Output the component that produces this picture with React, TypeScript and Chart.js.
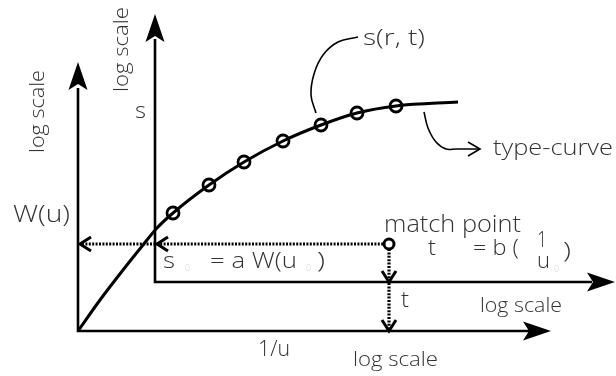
import { useEffect, useRef } from "react";
import { Chart, registerables } from "chart.js";
Chart.register(...registerables);

// Type-curve (diagram units)
const CURVE_X = [78, 100, 123, 143, 157, 173, 209, 244, 283, 321, 357, 396, 458];
const CURVE_Y = [331, 300, 270, 245, 228, 213, 185, 162, 141, 125, 113, 106, 102];
// Observed drawdown points s(r, t)
const OBS_X = [173, 209, 244, 283, 321, 357, 396];
const OBS_Y = [213, 185, 162, 141, 125, 113, 106];
// Match point
const MATCH_X = [389];
const MATCH_Y = [244];
// Axes (outer: W(u) vs 1/u ; inner: s vs t)
const OUTER_AXIS_X = [78, 78, 530];
const OUTER_AXIS_Y = [88, 331, 331];
const INNER_AXIS_X = [155, 155, 592];
const INNER_AXIS_Y = [39, 282, 282];
// Arrow tips [x, y, direction]
const ARROW_TIPS: [number, number, string][] = [
  [78, 62, "up"],
  [155, 14, "up"],
  [551, 331, "right"],
  [615, 282, "right"],
];
// Projection lines from the match point
const H_PROJ_X = [82, 384];
const H_PROJ_Y = [244, 244];
const V_PROJ_X = [389, 389];
const V_PROJ_Y = [249, 329];
// Chevrons (open arrows), each [tipX, tipY, direction]
const CHEVRONS: [number, number, string][] = [
  [80, 244, "left"],
  [157, 244, "left"],
  [389, 282, "down"],
  [389, 331, "down"],
];
// Leader lines
const LEADER1_X = [358, 338, 323, 314, 311, 316];
const LEADER1_Y = [37, 42, 55, 74, 95, 113];
const LEADER2_X = [424, 428, 436, 446, 456, 480];
const LEADER2_Y = [112, 128, 142, 149, 149, 149];

// Text labels: [text, x, baselineY, size, width, rotated, light]
const LABELS: [string, number, number, number, number, boolean, boolean][] = [
  ["log scale", 44, 153, 20, 83, true, false],
  ["log scale", 128, 92, 20, 85, true, false],
  ["s", 135, 118, 22, 11, false, false],
  ["s(r, t)", 363, 45, 22, 62, false, false],
  ["type-curve", 493, 155, 22, 120, false, false],
  ["W(u)", 13, 222, 23, 57, false, false],
  ["match point", 384, 232, 23, 137, false, false],
  ["s", 163, 268, 22, 12, false, false],
  ["0", 185, 271, 9, 5, false, true],
  ["= a W(u", 210, 268, 22, 87, false, false],
  ["0", 306, 271, 9, 5, false, true],
  [")", 317, 268, 22, 8, false, false],
  ["t", 428, 255, 22, 8, false, false],
  ["= b (", 473, 255, 22, 46, false, false],
  ["1", 537, 247, 22, 10, false, false],
  ["u", 537, 268, 22, 13, false, false],
  ["0", 554, 272, 9, 5, false, true],
  [")", 563, 258, 22, 8, false, false],
  ["t", 401, 307, 22, 8, false, false],
  ["log scale", 480, 312, 20, 82, false, false],
  ["1/u", 258, 356, 22, 32, false, false],
  ["log scale", 353, 366, 20, 85, false, false],
];

const pts = (xs: number[], ys: number[]) => xs.map((x, i) => ({ x, y: ys[i] }));

const diagramPlugin = {
  id: "diagram",
  afterDatasetsDraw(chart: any) {
    const ctx = chart.ctx as CanvasRenderingContext2D;
    const sx = chart.scales.x;
    const sy = chart.scales.y;
    const X = (v: number) => sx.getPixelForValue(v);
    const Y = (v: number) => sy.getPixelForValue(v);
    ctx.save();
    // filled, notched arrowheads
    ctx.fillStyle = "#000";
    for (const [tx, ty, dir] of ARROW_TIPS) {
      const px = X(tx), py = Y(ty);
      const L = 28, W = 9.5, N = 6;
      ctx.beginPath();
      if (dir === "up") {
        ctx.moveTo(px, py);
        ctx.lineTo(px + W, py + L);
        ctx.lineTo(px, py + L - N);
        ctx.lineTo(px - W, py + L);
      } else {
        ctx.moveTo(px, py);
        ctx.lineTo(px - L, py - W);
        ctx.lineTo(px - L + N, py);
        ctx.lineTo(px - L, py + W);
      }
      ctx.closePath();
      ctx.fill();
    }
    // open chevrons
    ctx.strokeStyle = "#000";
    ctx.lineWidth = 3;
    ctx.lineJoin = "miter";
    for (const [tx, ty, dir] of CHEVRONS) {
      const px = X(tx), py = Y(ty);
      const a = 11, b = 7;
      ctx.beginPath();
      if (dir === "left") {
        ctx.moveTo(px + a, py - b);
        ctx.lineTo(px, py);
        ctx.lineTo(px + a, py + b);
      } else {
        ctx.moveTo(px - b, py - a);
        ctx.lineTo(px, py);
        ctx.lineTo(px + b, py - a);
      }
      ctx.stroke();
    }
    // type-curve leader arrow head
    {
      const px = X(LEADER2_X[LEADER2_X.length - 1]);
      const py = Y(LEADER2_Y[LEADER2_Y.length - 1]);
      ctx.lineWidth = 1.6;
      ctx.beginPath();
      ctx.moveTo(px - 12, py - 7);
      ctx.lineTo(px, py);
      ctx.lineTo(px - 12, py + 7);
      ctx.stroke();
    }
    // labels
    ctx.textBaseline = "alphabetic";
    ctx.textAlign = "left";
    for (const [t, x, y, size, w, rot, light] of LABELS) {
      ctx.font = `300 ${size}px "Open Sans", "Liberation Sans", Arial, sans-serif`;
      ctx.fillStyle = light ? "#d0d0d0" : "#333";
      const m = ctx.measureText(t).width;
      const k = w / m;
      ctx.save();
      ctx.translate(X(x), Y(y));
      if (rot) ctx.rotate(-Math.PI / 2);
      ctx.scale(k, 1);
      ctx.fillText(t, 0, 0);
      ctx.restore();
    }
    ctx.restore();
  },
};

export default function App() {
  const ref = useRef<HTMLCanvasElement>(null);
  useEffect(() => {
    document.body.style.margin = "0";
    const lineDs = (data: any[], extra: any = {}) => ({
      data,
      showLine: true,
      pointRadius: 0,
      borderColor: "#000",
      borderWidth: 2.6,
      tension: 0,
      clip: false as any,
      ...extra,
    });
    const chart = new Chart(ref.current!, {
      type: "scatter",
      data: {
        datasets: [
          lineDs(pts(OUTER_AXIS_X, OUTER_AXIS_Y)),
          lineDs(pts(INNER_AXIS_X, INNER_AXIS_Y)),
          lineDs(pts(H_PROJ_X, H_PROJ_Y), { borderWidth: 3.2, borderDash: [2, 1.4], borderCapStyle: "butt" }),
          lineDs(pts(V_PROJ_X, V_PROJ_Y), { borderWidth: 3.2, borderDash: [2, 1.4], borderCapStyle: "butt" }),
          lineDs(pts(CURVE_X, CURVE_Y), { borderWidth: 3, cubicInterpolationMode: "monotone" }),
          lineDs(pts(LEADER1_X, LEADER1_Y), { borderWidth: 1.6, tension: 0.4 }),
          lineDs(pts(LEADER2_X, LEADER2_Y), { borderWidth: 1.6, tension: 0.35 }),
          {
            data: pts(OBS_X, OBS_Y),
            showLine: false,
            pointRadius: 6,
            pointBorderWidth: 2.8,
            pointBorderColor: "#000",
            pointBackgroundColor: "#fff",
            clip: false as any,
          },
          {
            data: pts(MATCH_X, MATCH_Y),
            showLine: false,
            pointRadius: 5,
            pointBorderWidth: 3,
            pointBorderColor: "#000",
            pointBackgroundColor: "#fff",
            clip: false as any,
          },
        ],
      },
      options: {
        animation: false,
        responsive: false,
        devicePixelRatio: 1,
        layout: { padding: 0, autoPadding: false },
        plugins: { legend: { display: false }, tooltip: { enabled: false } },
        events: [],
        scales: {
          x: { type: "linear", min: 0, max: 616, display: false },
          y: { type: "linear", min: 0, max: 376, reverse: true, display: false },
        },
      },
      plugins: [diagramPlugin],
    });
    return () => chart.destroy();
  }, []);
  return (
    <div style={{ width: 616, height: 376, background: "#fff" }}>
      <canvas ref={ref} width={616} height={376} style={{ display: "block" }} />
    </div>
  );
}
